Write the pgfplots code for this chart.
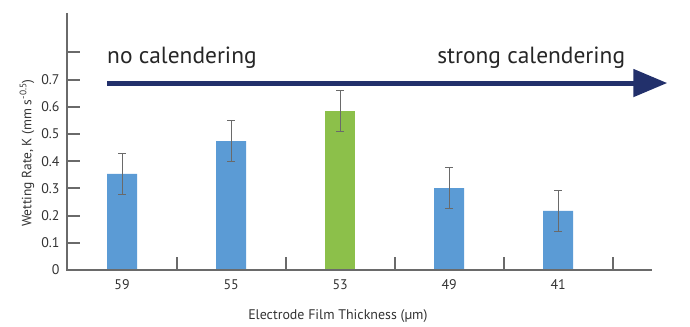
\documentclass[border=0pt]{standalone}
\usepackage{pgfplots}
\pgfplotsset{compat=1.18}
\usepackage{fontspec}
\setmainfont{PT Sans}
\usetikzlibrary{arrows.meta}
\definecolor{barblue}{HTML}{5B9BD5}
\definecolor{bargreen}{HTML}{8CC04A}
\definecolor{navy}{HTML}{22306B}
\definecolor{axgray}{HTML}{6A6A6A}
\definecolor{txt}{HTML}{333333}
\begin{document}
\begin{tikzpicture}
\useasboundingbox (-67bp,-57bp) rectangle (623bp,270bp);
\begin{axis}[
  at={(0,0)}, anchor=south west,
  scale only axis, width=585bp, height=257bp,
  xmin=-0.505, xmax=4.86, ymin=0, ymax=0.945,
  axis line style={draw=none},
  xtick pos=bottom, ytick pos=left,
  xtick={0.5,1.5,2.5,3.5,4.5},
  xticklabels={59,55,53,49,41},
  ytick={0,0.1,0.2,0.3,0.4,0.5,0.6,0.7,0.8},
  yticklabels={0,0.1,0.2,0.3,0.4,0.5,0.6,0.7,},
  tick align=inside,
  major tick length=13bp,
  tick style={draw=axgray, line width=2bp},
  tick label style={font=\fontsize{14}{16}\selectfont, text=txt},
  xticklabel style={xshift=-54.5bp, yshift=-6bp},
  yticklabel style={xshift=-4bp},
  /pgf/number format/assume math mode=true,
  xlabel={Electrode Film Thickness (µm)},
  xlabel style={at={(axis description cs:0.463,-0.178)}, anchor=center, font=\fontsize{14}{16}\selectfont, text=txt},
  ylabel={Wetting Rate, K (mm s\textsuperscript{-0.5})},
  ylabel style={at={(axis description cs:-0.0684,0.455)}, anchor=center, rotate=0, font=\fontsize{13.5}{15}\selectfont, text=txt},
  clip=false,
]
\addplot[ybar, bar width=30bp, bar shift=0pt, fill=barblue, draw=none,
  error bars/.cd, y dir=both, y explicit,
  error bar style={draw=axgray, line width=1.1bp},
  error mark options={rotate=90, mark size=4bp, line width=1.1bp, draw=axgray}]
  coordinates {(0,0.353) +- (0,0.074) (1,0.474) +- (0,0.075) (3,0.301) +- (0,0.076) (4,0.217) +- (0,0.075)};
\addplot[ybar, bar width=30bp, bar shift=0pt, fill=bargreen, draw=none,
  error bars/.cd, y dir=both, y explicit,
  error bar style={draw=axgray, line width=1.1bp},
  error mark options={rotate=90, mark size=4bp, line width=1.1bp, draw=axgray}]
  coordinates {(2,0.585) +- (0,0.076)};
\draw[axgray, line width=2.2bp] (rel axis cs:0,1) -- (rel axis cs:0,0) -- (rel axis cs:1,0);
\draw[navy, line width=5bp, -{Triangle[length=34bp,width=27bp]}] (axis cs:-0.138,0.6875) -- (axis cs:5.0,0.6875);
\node[anchor=base west, inner sep=0pt, font=\fontsize{23.5}{26}\selectfont, text=black!85] at (axis cs:-0.138,0.761) {no calendering};
\node[anchor=base east, inner sep=0pt, font=\fontsize{23.5}{26}\selectfont, text=black!85] at (axis cs:4.615,0.761) {strong calendering};
\end{axis}
\end{tikzpicture}
\end{document}
